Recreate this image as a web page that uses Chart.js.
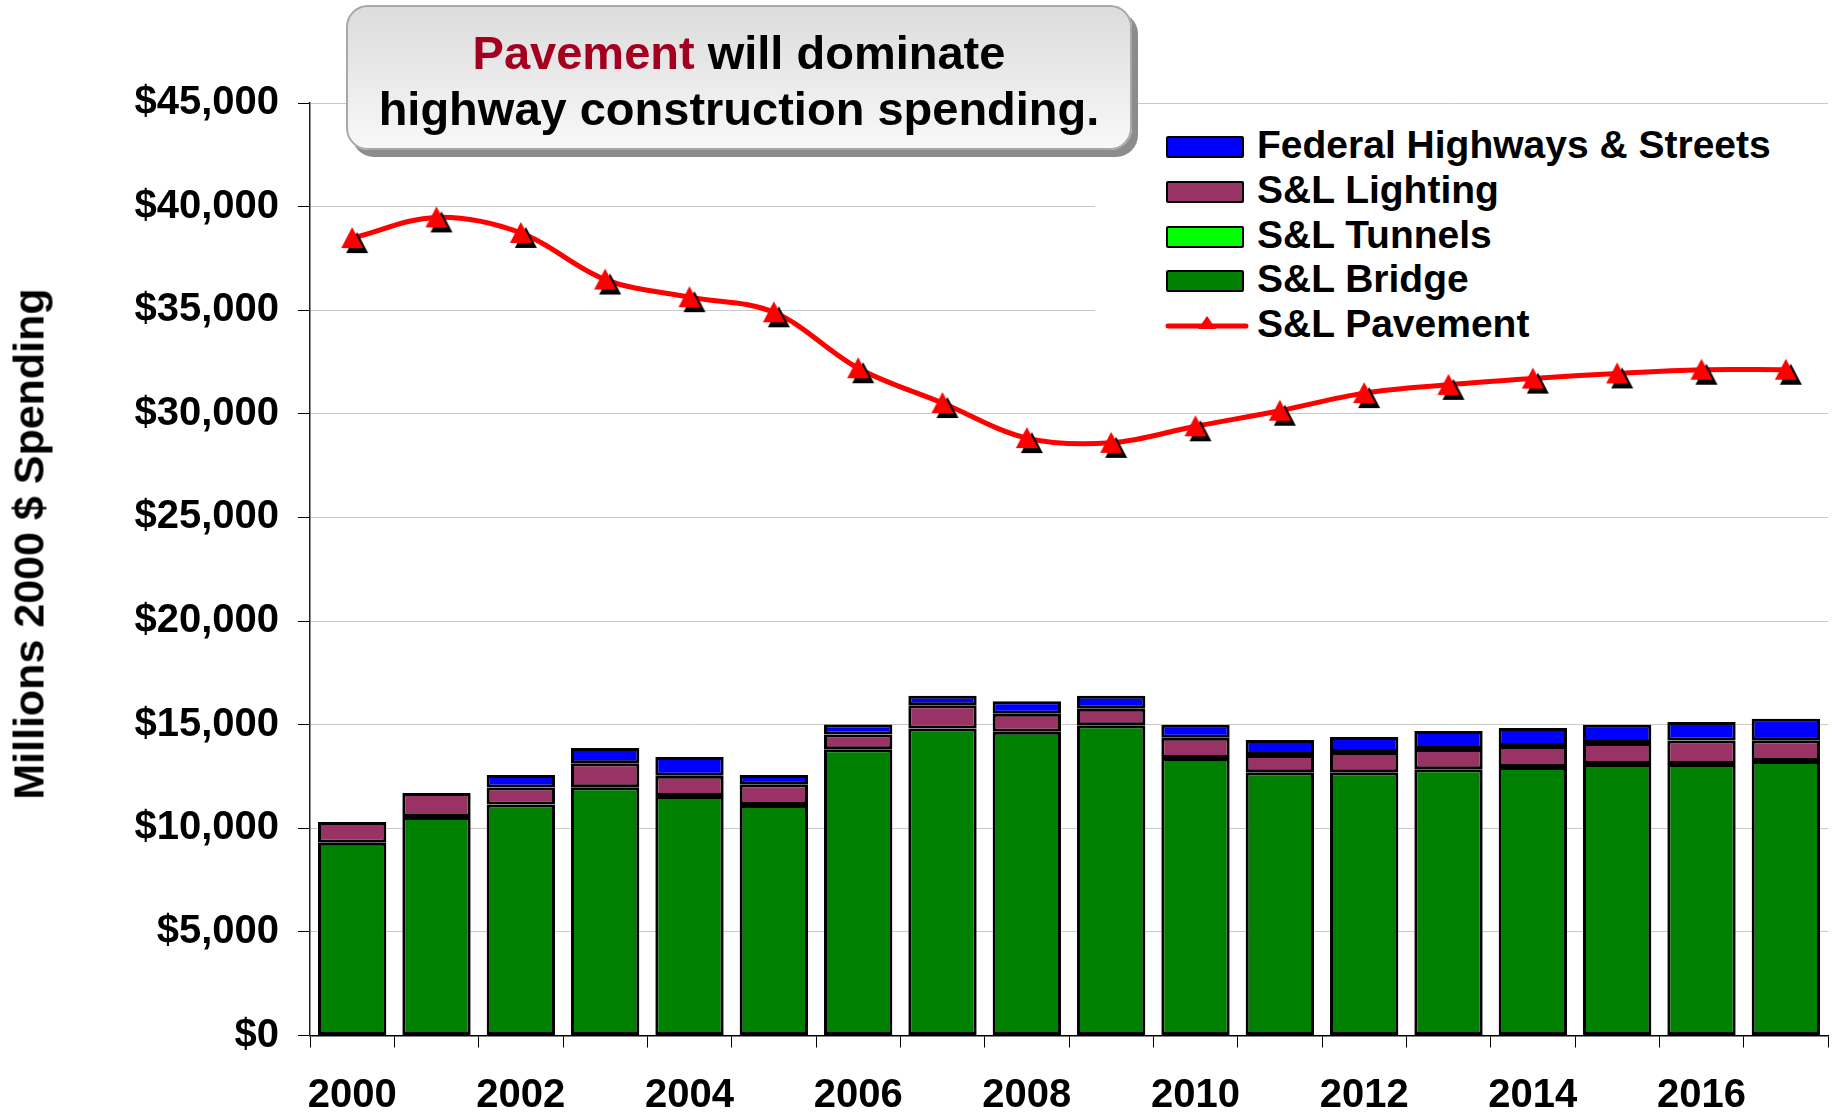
<!DOCTYPE html>
<html>
<head>
<meta charset="utf-8">
<script src="https://cdn.jsdelivr.net/npm/chart.js@4"></script>
<style>
  body { margin: 0; background: #fff; }
  #wrap { position: relative; width: 1832px; height: 1116px; font-family: 'Liberation Sans', Arial, sans-serif; font-weight: bold; }
  #titleBox {
    position: absolute; left: 346px; top: 5px; width: 786px; height: 145px; z-index: 2;
    box-sizing: border-box; border: 2px solid #a8a8a8; border-radius: 22px;
    background: linear-gradient(#dcdcdc, #f8f8f8);
    box-shadow: 6px 7px 0 #8c8c8c;
    text-align: center; font-size: 47px; line-height: 56px; padding-top: 18px; color: #000;
  }
  #titleBox .hl { color: #a3001f; }
  #yTitle {
    position: absolute; left: 29px; top: 544px; font-size: 43px; line-height: 43px;
    white-space: nowrap; transform: translate(-50%, -50%) rotate(-90deg);
  }
  #legend { position: absolute; left: 1095px; top: 115px; width: 737px; height: 238px; background: #fff; z-index: 1; }
  .row { position: absolute; left: 0; height: 38px; }
  .row .sw { position: absolute; left: 71px; top: 8px; width: 78px; height: 22px; box-sizing: border-box; border: 2px solid #000; border-radius: 2px; }
  .row canvas { position: absolute; left: 70px; top: 0; }
  .row .tx { position: absolute; left: 162px; top: -3px; font-size: 39px; line-height: 39px; white-space: nowrap; }
</style>
</head>
<body>
<div id="wrap">
  <canvas id="chart" width="1832" height="1116"></canvas>
  <div id="titleBox"><span class="hl">Pavement</span> will dominate<br>highway construction spending.</div>
  <div id="yTitle">Millions 2000 $ Spending</div>
  <div id="legend"></div>
</div>
<script>
const years = ['2000', '2001', '2002', '2003', '2004', '2005', '2006', '2007', '2008',
  '2009', '2010', '2011', '2012', '2013', '2014', '2015', '2016', '2017'];
const bridge = [9300, 10550, 11150, 11980, 11560, 11120, 13810, 14810, 14660,
  14970, 13390, 12700, 12700, 12850, 12960, 13100, 13100, 13250];
const tunnels = [0, 0, 0, 0, 0, 0, 0, 0, 0, 0, 0, 0, 0, 0, 0, 0, 0, 0];
const lighting = [1000, 1150, 820, 1160, 980, 1000, 720, 1130, 870,
  800, 980, 840, 980, 980, 1010, 1010, 1140, 1000];
const federal = [0, 0, 600, 740, 900, 450, 480, 460, 600,
  630, 630, 720, 720, 870, 870, 880, 890, 1030];
const pavement = [38480, 39480, 38730, 36480, 35630, 34900, 32200, 30520, 28830,
  28600, 29400, 30150, 31000, 31400, 31700, 31950, 32130, 32130];
const yTicks = [0, 5000, 10000, 15000, 20000, 25000, 30000, 35000, 40000, 45000];

const FONT = "'Liberation Sans', Arial, sans-serif";

// red triangle with a black drop shadow, used as the point style
function triangleMarker(shadow) {
  const c = document.createElement('canvas');
  c.width = 38; c.height = 38;
  const g = c.getContext('2d');
  function tri(dx, dy, col) {
    g.fillStyle = col;
    g.beginPath();
    g.moveTo(19 + dx, 8 + dy);
    g.lineTo(30 + dx, 29 + dy);
    g.lineTo(8 + dx, 29 + dy);
    g.closePath();
    g.fill();
  }
  if (shadow) tri(5, 5, '#000');
  tri(0, 0, '#ff0000');
  return c;
}

function bars(label, data, color) {
  return {
    type: 'bar', label: label, data: data, backgroundColor: color,
    borderColor: '#000', borderWidth: 3, borderSkipped: false,
    stack: 'spend', order: 1
  };
}

const chart = new Chart(document.getElementById('chart').getContext('2d'), {
  data: {
    labels: years,
    datasets: [
      bars('S&L Bridge', bridge, '#008000'),
      bars('S&L Tunnels', tunnels, '#00ff00'),
      bars('S&L Lighting', lighting, '#993366'),
      bars('Federal Highways & Streets', federal, '#0000ff'),
      {
        type: 'line', label: 'S&L Pavement', data: pavement, stack: 'pave', order: 0,
        borderColor: '#ff0000', borderWidth: 5, tension: 0.35,
        pointStyle: triangleMarker(true), pointRadius: 12, backgroundColor: '#ff0000'
      }
    ]
  },
  options: {
    responsive: false,
    animation: false,
    barPercentage: 0.81,
    categoryPercentage: 1.0,
    layout: { autoPadding: false, padding: { top: 103, right: 4, left: 0, bottom: 0 } },
    plugins: { legend: { display: false }, tooltip: { enabled: false } },
    scales: {
      x: {
        stacked: true,
        afterFit: (s) => { s.height = 80.5; s.paddingLeft = 0; s.paddingRight = 0; },
        grid: { drawOnChartArea: false, drawTicks: true, tickLength: 12, tickColor: '#000', offset: true },
        border: { color: '#000', width: 1.5 },
        ticks: {
          autoSkip: false, maxRotation: 0, padding: 24, color: '#000',
          font: { family: FONT, size: 40, weight: 'bold' },
          callback: function (v, i) { return i % 2 === 0 ? years[i] : ''; }
        }
      },
      y: {
        stacked: true,
        min: 0, max: 45000,
        afterFit: (s) => { s.width = 310; },
        afterBuildTicks: (s) => { s.ticks = yTicks.map(v => ({ value: v })); },
        grid: { color: '#c8c8c8', lineWidth: 1, drawTicks: true, tickLength: 12, tickColor: '#000' },
        border: { color: '#222', width: 1.5 },
        ticks: {
          padding: 19, color: '#000',
          font: { family: FONT, size: 40, weight: 'bold' },
          callback: (v) => '$' + Number(v).toLocaleString('en-US')
        }
      }
    }
  }
});

// legend, listed top of stack first, then the line
const legend = document.getElementById('legend');
const order = [3, 2, 1, 0, 4];
order.forEach((di, k) => {
  const ds = chart.data.datasets[di];
  const row = document.createElement('div');
  row.className = 'row';
  row.style.top = (32 + k * 44.75 - 19) + 'px';
  row.style.width = '737px';
  if (ds.type === 'bar') {
    const sw = document.createElement('div');
    sw.className = 'sw';
    sw.style.background = ds.backgroundColor;
    row.appendChild(sw);
  } else {
    const c = document.createElement('canvas');
    c.width = 84; c.height = 38;
    const g = c.getContext('2d');
    g.strokeStyle = ds.borderColor; g.lineWidth = 5; g.lineCap = 'round';
    g.beginPath(); g.moveTo(3, 19); g.lineTo(81, 19); g.stroke();
    g.fillStyle = ds.borderColor;
    g.beginPath(); g.moveTo(42, 9); g.lineTo(51, 22); g.lineTo(33, 22); g.closePath(); g.fill();
    row.appendChild(c);
  }
  const tx = document.createElement('div');
  tx.className = 'tx';
  tx.textContent = ds.label;
  row.appendChild(tx);
  legend.appendChild(row);
});
</script>
</body>
</html>
